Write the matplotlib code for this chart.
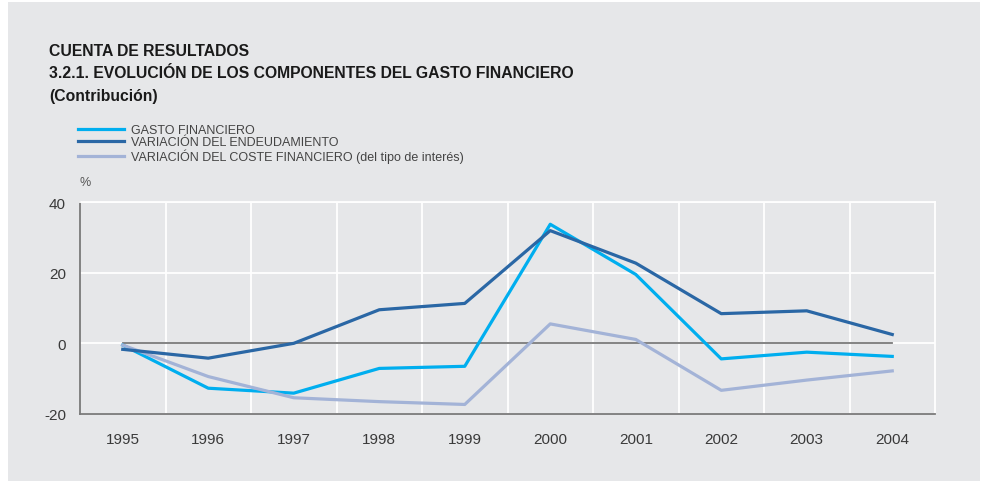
import numpy as np
import matplotlib
matplotlib.use("Agg")
import matplotlib.pyplot as plt
from matplotlib.patches import Rectangle

plt.rcParams['font.family'] = ['Liberation Sans', 'DejaVu Sans']

# --- datos ---
years = ['1995', '1996', '1997', '1998', '1999', '2000', '2001', '2002', '2003', '2004']
gasto = [-0.5, -12.7, -14.1, -7.1, -6.5, 33.7, 19.5, -4.4, -2.5, -3.7]
endeudamiento = [-1.7, -4.2, 0.0, 9.5, 11.3, 31.9, 22.7, 8.4, 9.2, 2.5]
coste = [-0.5, -9.4, -15.4, -16.5, -17.3, 5.5, 1.1, -13.3, -10.4, -7.8]
yticks = [-20, 0, 20, 40]

labels = ['GASTO FINANCIERO',
          'VARIACIÓN DEL ENDEUDAMIENTO',
          'VARIACIÓN DEL COSTE FINANCIERO (del tipo de interés)']

bg = '#e6e7e9'
c_gasto = '#00aeef'
c_end = '#2a67a5'
c_coste = '#a3b3d7'
axis_gray = '#7a7a7a'
txt = '#3a3a3a'

fig = plt.figure(figsize=(9.82, 4.85), dpi=100, facecolor='white')
# panel gris de fondo
fig.patches.append(Rectangle((8 / 982, 3 / 485), 972 / 982, 479 / 485,
                             transform=fig.transFigure, facecolor=bg,
                             edgecolor='none', zorder=-5))

ax = fig.add_axes([80 / 982, 70 / 485, 855 / 982, 212 / 485])
ax.set_zorder(2)
ax.set_facecolor(bg)

x = np.arange(len(years))
ax.plot([x[0], x[-1]], [0, 0], color=axis_gray, lw=1.3, zorder=3)
l1, = ax.plot(x, gasto, color=c_gasto, lw=2.3, zorder=4, label=labels[0])
l3, = ax.plot(x, coste, color=c_coste, lw=2.3, zorder=4, label=labels[2])
l2, = ax.plot(x, endeudamiento, color=c_end, lw=2.3, zorder=5, label=labels[1])

ax.set_xlim(-0.5, len(years) - 0.5)
ax.set_ylim(-20, 40)
ax.set_yticks(yticks)
ax.set_yticklabels([str(v) for v in yticks])
ax.set_xticks(x)
ax.set_xticklabels(years)
ax.set_xticks(np.arange(0.5, len(years) - 0.5, 1), minor=True)

ax.grid(True, which='major', axis='y', color='white', lw=1.3, zorder=1)
ax.grid(True, which='minor', axis='x', color='white', lw=1.3, zorder=1)
ax.set_axisbelow(True)

ax.tick_params(which='both', length=0)
ax.tick_params(axis='y', pad=10, labelsize=11, labelcolor=txt)
ax.tick_params(axis='x', pad=13, labelsize=11, labelcolor=txt)

for s in ['top', 'right']:
    ax.spines[s].set_color('white')
    ax.spines[s].set_linewidth(1.3)
for s in ['left', 'bottom']:
    ax.spines[s].set_color(axis_gray)
    ax.spines[s].set_linewidth(1.3)

ax.text(0.0, 1.065, '%', transform=ax.transAxes, fontsize=9, color='#555555',
        ha='left', va='bottom')

# --- títulos ---
fig.text(49 / 982, 1 - 51 / 485, 'CUENTA DE RESULTADOS', fontsize=11.3,
         fontweight='bold', color='#1a1a1a', va='center')
fig.text(49 / 982, 1 - 74 / 485,
         '3.2.1. EVOLUCIÓN DE LOS COMPONENTES DEL GASTO FINANCIERO',
         fontsize=11.3, fontweight='bold', color='#1a1a1a', va='center')
fig.text(49 / 982, 1 - 97 / 485, '(Contribución)', fontsize=11.3,
         fontweight='bold', color='#1a1a1a', va='center')

leg = ax.legend(handles=[l1, l2, l3], loc='upper left',
                bbox_to_anchor=(72 / 982, 1 - 119 / 485),
                bbox_transform=fig.transFigure, frameon=False,
                fontsize=9.0, handlelength=3.65, handletextpad=0.6,
                labelspacing=0.02, borderpad=0)
for t in leg.get_texts():
    t.set_color('#444444')

fig.savefig('out.png', dpi=100, facecolor='white')
